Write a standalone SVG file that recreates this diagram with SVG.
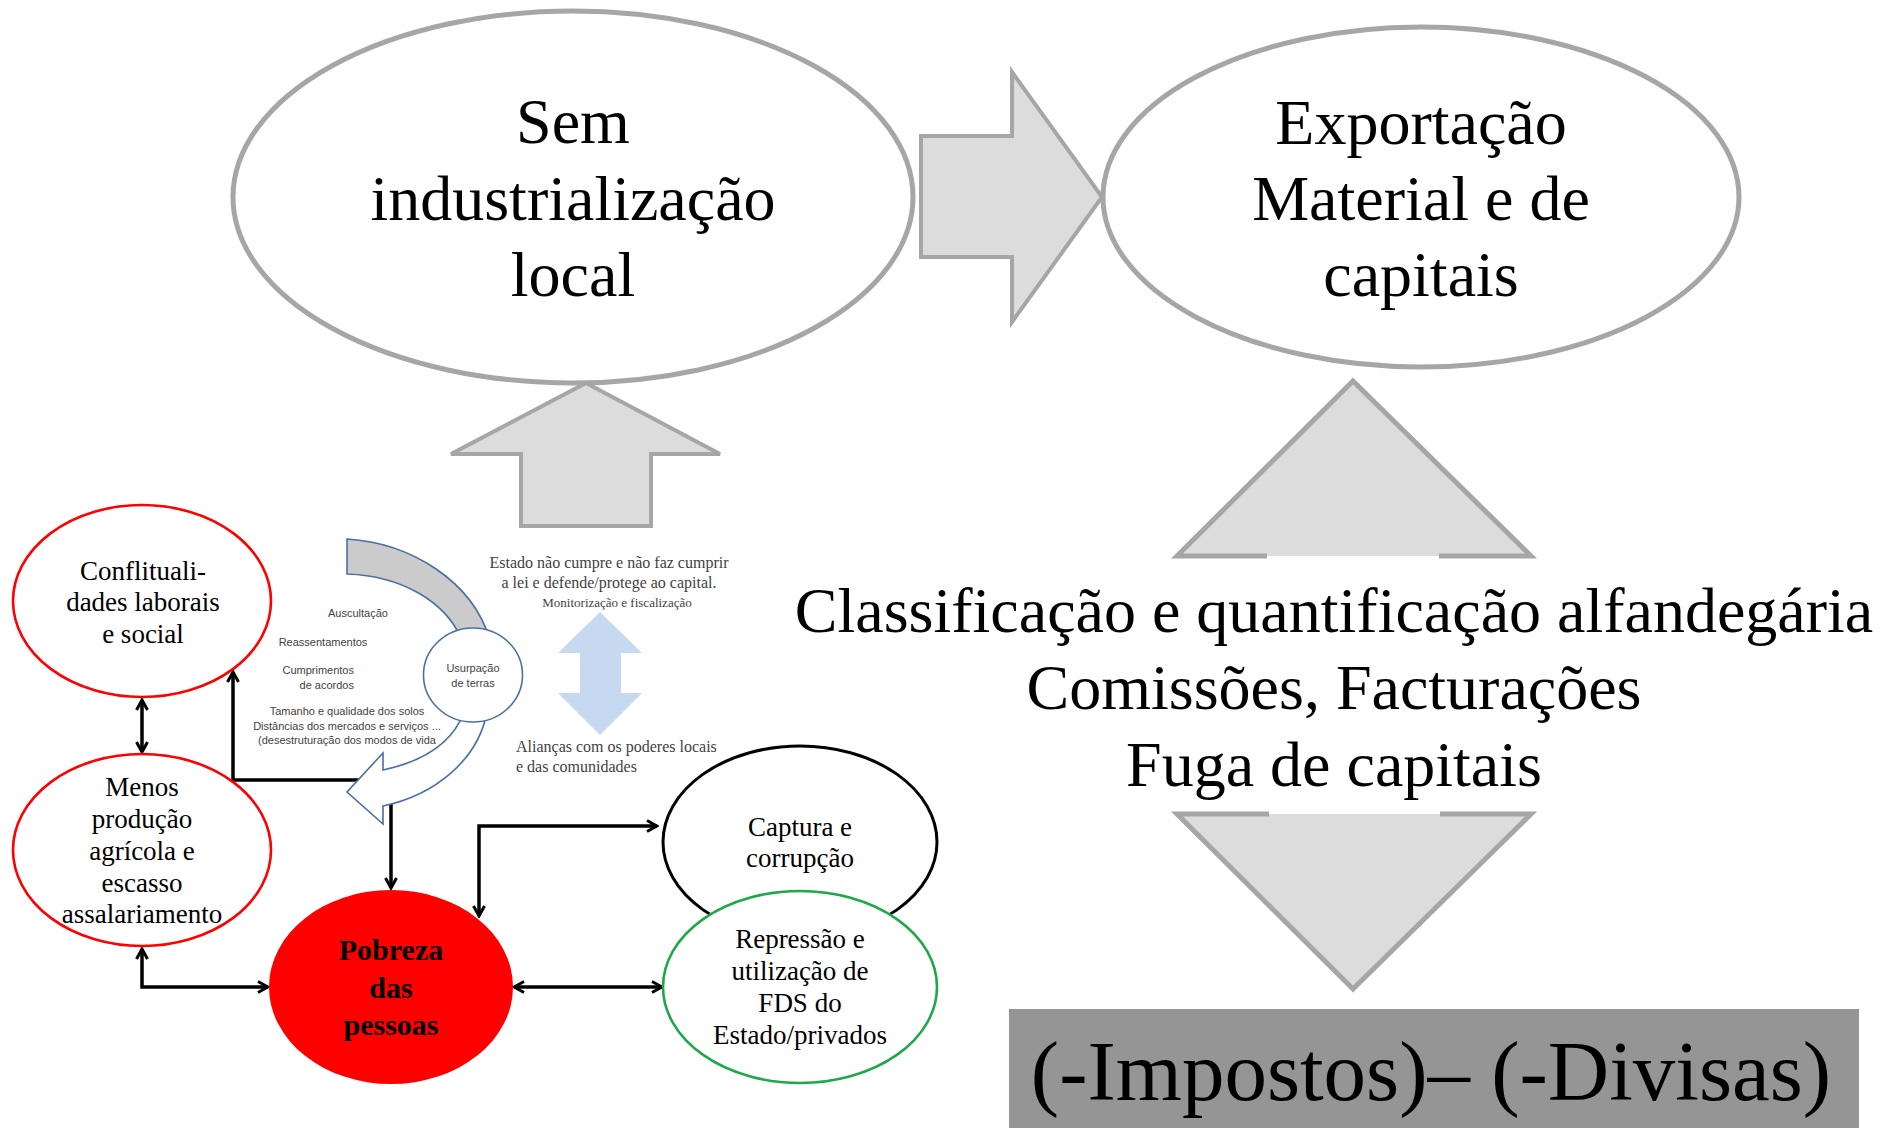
<svg xmlns="http://www.w3.org/2000/svg" width="1883" height="1128" viewBox="0 0 1883 1128">
<style>
.serif{font-family:"Liberation Serif","Times New Roman",serif;fill:#000}
.big{font-size:64px;text-anchor:middle}
.med{font-size:27px;text-anchor:middle}
.sans{font-family:"Liberation Sans",Arial,sans-serif;font-size:11px;fill:#3f3f3f}
.note{font-family:"Liberation Serif","Times New Roman",serif;fill:#3f3f3f}
.gshape{fill:#dcdcdc;stroke:none}
.gline{fill:none;stroke:#a6a6a6;stroke-width:5}
.conn{fill:none;stroke:#000;stroke-width:3.5}
.blue{stroke:#4a6fa5;stroke-width:1.6}
</style>
<defs>
<marker id="ah" viewBox="0 0 14 14" refX="12" refY="7" markerWidth="14" markerHeight="14" markerUnits="userSpaceOnUse" orient="auto-start-reverse">
<path d="M2,1.5 L12,7 L2,12.5" fill="none" stroke="#000" stroke-width="3"/>
</marker>
</defs>
<rect width="1883" height="1128" fill="#fff"/>

<!-- Top row -->
<g id="node-sem-industrializacao">
<ellipse cx="573" cy="197" rx="340" ry="186" fill="#fff" stroke="#a6a6a6" stroke-width="5"/>
<text class="serif big" x="573" y="143">Sem</text>
<text class="serif big" x="573" y="220">industrialização</text>
<text class="serif big" x="573" y="296">local</text>
</g>
<g id="arrow-right-block">
<polygon points="921,136 1012,136 1012,72 1102,197 1012,322 1012,257 921,257" fill="#dcdcdc" stroke="#a6a6a6" stroke-width="4"/>
</g>
<g id="node-exportacao">
<ellipse cx="1421" cy="197" rx="318" ry="170" fill="#fff" stroke="#a6a6a6" stroke-width="5"/>
<text class="serif big" x="1421" y="144">Exportação</text>
<text class="serif big" x="1421" y="220">Material e de</text>
<text class="serif big" x="1421" y="296">capitais</text>
</g>
<g id="arrow-up-block">
<polygon points="586,383 720,454 651,454 651,526 521,526 521,454 451,454" fill="#dcdcdc" stroke="#a6a6a6" stroke-width="4"/>
</g>

<!-- Right column -->
<g id="triangle-up">
<polygon class="gshape" points="1353,381 1531,556 1177,556"/>
<polyline class="gline" points="1267,556 1177,556 1353,381 1531,556 1439,556"/>
</g>
<g id="node-classificacao">
<text class="serif big" x="1334" y="632">Classificação e quantificação alfandegária</text>
<text class="serif big" x="1334" y="709">Comissões, Facturações</text>
<text class="serif big" x="1334" y="786">Fuga de capitais</text>
</g>
<g id="triangle-down">
<polygon class="gshape" points="1177,814 1531,814 1353,989"/>
<polyline class="gline" points="1269,814 1177,814 1353,989 1531,814 1440,814"/>
</g>
<g id="node-impostos">
<rect x="1009" y="1009" width="850" height="125" fill="#959595"/>
<text class="serif" x="1431" y="1100" font-size="85" text-anchor="middle">(-Impostos)– (-Divisas)</text>
</g>

<!-- Lower-left diagram connectors -->
<g id="connectors">
<path class="conn" d="M142,700 L142,752" marker-start="url(#ah)" marker-end="url(#ah)"/>
<path class="conn" d="M372,780 L233,780 L233,672" marker-end="url(#ah)"/>
<path class="conn" d="M391,800 L391,888" marker-end="url(#ah)"/>
<path class="conn" d="M479,916 L479,826 L657,826" marker-start="url(#ah)" marker-end="url(#ah)"/>
<path class="conn" d="M514,987 L662,987" marker-start="url(#ah)" marker-end="url(#ah)"/>
<path class="conn" d="M142,949 L142,987 L268,987" marker-start="url(#ah)" marker-end="url(#ah)"/>
</g>

<g id="node-conflitualidades">
<ellipse cx="142" cy="601" rx="129" ry="96" fill="#fff" stroke="#ff0000" stroke-width="2.6"/>
<text class="serif med" x="143" y="580">Conflituali-</text>
<text class="serif med" x="143" y="611">dades laborais</text>
<text class="serif med" x="143" y="643">e social</text>
</g>
<g id="node-menos-producao">
<ellipse cx="142" cy="850" rx="129" ry="96" fill="#fff" stroke="#ff0000" stroke-width="2.6"/>
<text class="serif med" x="142" y="796">Menos</text>
<text class="serif med" x="142" y="828">produção</text>
<text class="serif med" x="142" y="860">agrícola e</text>
<text class="serif med" x="142" y="892">escasso</text>
<text class="serif med" x="142" y="923" font-size="26">assalariamento</text>
</g>
<g id="node-pobreza">
<ellipse cx="391" cy="987" rx="122" ry="97" fill="#ff0000"/>
<text class="serif" x="391" y="960" font-size="30" font-weight="bold" text-anchor="middle">Pobreza</text>
<text class="serif" x="391" y="998" font-size="30" font-weight="bold" text-anchor="middle">das</text>
<text class="serif" x="391" y="1035" font-size="30" font-weight="bold" text-anchor="middle">pessoas</text>
</g>
<g id="node-captura">
<ellipse cx="800" cy="842" rx="137" ry="96" fill="#fff" stroke="#000" stroke-width="3"/>
<text class="serif med" x="800" y="836" font-size="26">Captura e</text>
<text class="serif med" x="800" y="867" font-size="26">corrupção</text>
</g>
<g id="node-repressao">
<ellipse cx="800" cy="987" rx="137" ry="96" fill="#fff" stroke="#1ea84a" stroke-width="2.6"/>
<text class="serif med" x="800" y="948" font-size="26">Repressão e</text>
<text class="serif med" x="800" y="980" font-size="26">utilização de</text>
<text class="serif med" x="800" y="1012" font-size="26">FDS do</text>
<text class="serif med" x="800" y="1044" font-size="26">Estado/privados</text>
</g>

<!-- Usurpação cycle -->
<g id="curved-arrow">
<path d="M347,539 C410,543 472,580 490,640 L462,640 C445,600 400,576 347,574 Z" fill="#cbcbcb" class="blue"/>
<path d="M487,712 C478,760 435,795 383,806 L383,824 L347,792 L383,753 L383,770 C420,762 452,745 464,712 Z" fill="#fff" class="blue"/>
</g>
<g id="node-usurpacao">
<ellipse cx="473" cy="675" rx="49.5" ry="47" fill="#fff" class="blue"/>
<text class="sans" x="473" y="672" text-anchor="middle">Usurpação</text>
<text class="sans" x="473" y="687" text-anchor="middle">de terras</text>
</g>
<g id="labels-usurpacao">
<text class="sans" x="358" y="617" text-anchor="middle">Auscultação</text>
<text class="sans" x="323" y="646" text-anchor="middle">Reassentamentos</text>
<text class="sans" x="354" y="674" text-anchor="end">Cumprimentos</text>
<text class="sans" x="354" y="689" text-anchor="end">de acordos</text>
<text class="sans" x="347" y="715" text-anchor="middle">Tamanho e qualidade dos solos</text>
<text class="sans" x="347" y="730" text-anchor="middle">Distâncias dos mercados e serviços ...</text>
<text class="sans" x="347" y="744" text-anchor="middle">(desestruturação dos modos de vida</text>
</g>
<g id="node-estado">
<text class="note" x="609" y="568" font-size="16" text-anchor="middle">Estado não cumpre e não faz cumprir</text>
<text class="note" x="609" y="588" font-size="16" text-anchor="middle">a lei e defende/protege ao capital.</text>
<text class="note" x="617" y="607" font-size="13" text-anchor="middle">Monitorização e fiscalização</text>
</g>
<g id="blue-double-arrow">
<polygon points="600,612 642,653 621,653 621,693 642,693 600,735 558,693 580,693 580,653 558,653" fill="#c6d9f1"/>
</g>
<g id="node-aliancas">
<text class="note" x="516" y="752" font-size="16">Alianças com os poderes locais</text>
<text class="note" x="516" y="772" font-size="16">e das comunidades</text>
</g>
</svg>
